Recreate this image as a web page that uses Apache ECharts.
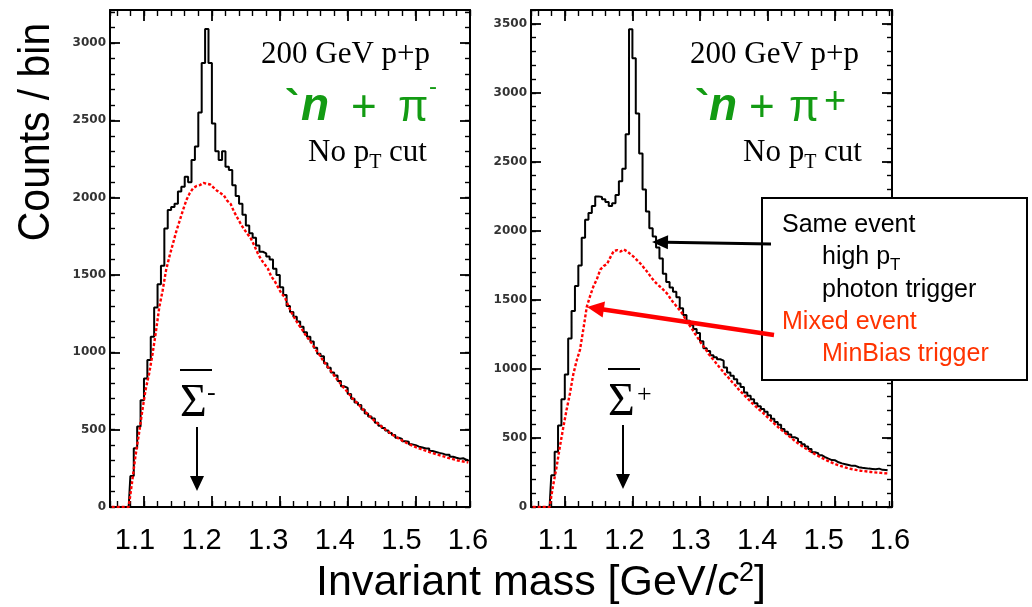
<!DOCTYPE html>
<html>
<head>
<meta charset="utf-8">
<script src="https://cdn.jsdelivr.net/npm/echarts@6/dist/echarts.min.js"></script>
<style>
  html, body { margin: 0; padding: 0; background: #fff; }
  #chart { width: 1032px; height: 607px; }
</style>
</head>
<body>
<div id="chart"></div>
<script>
// Histogram binning (GeV/c^2): first bin centre and bin width
const binStart = 1.0525;
const binWidth = 0.005;

// anti-n + pi-  : same-event (high-pT photon trigger) counts per bin
const sameEventMinus = [
  0, 0, 0, 0, 0, 0, 200, 380, 520, 690,
  830, 950, 1100, 1290, 1440, 1560, 1800, 1920, 1940, 1960,
  2040, 2070, 2135, 2100, 2243, 2330, 2550, 2870, 3090, 2870,
  2480, 2300, 2243, 2300, 2200, 2178, 2080, 2010, 1960, 1890,
  1820, 1770, 1740, 1690, 1650, 1640, 1620, 1600, 1540, 1500,
  1420, 1370, 1300, 1260, 1230, 1200, 1165, 1130, 1100, 1070,
  1030, 990, 975, 930, 900, 870, 850, 815, 780, 770,
  730, 700, 675, 660, 630, 605, 585, 572, 545, 525,
  510, 495, 478, 465, 448, 440, 425, 422, 405, 400,
  390, 385, 378, 378, 362, 356, 350, 345, 337, 338,
  325, 318, 312, 315, 305, 302
];
// anti-n + pi-  : mixed-event (MinBias trigger) counts per bin
const mixedEventMinus = [
  0, 0, 0, 0, 0, 0, 160, 330, 470, 620,
  760, 860, 985, 1130, 1290, 1400, 1530, 1620, 1700, 1780,
  1850, 1920, 1985, 2030, 2062, 2075, 2081, 2095, 2090, 2085,
  2065, 2045, 2030, 2015, 1980, 1960, 1910, 1870, 1830, 1795,
  1765, 1735, 1690, 1640, 1600, 1570, 1540, 1490, 1460, 1420,
  1380, 1355, 1300, 1255, 1215, 1180, 1150, 1115, 1085, 1055,
  1020, 990, 955, 925, 895, 865, 835, 808, 780, 755,
  728, 700, 678, 655, 630, 608, 586, 565, 545, 528,
  510, 494, 478, 462, 450, 436, 424, 412, 402, 392,
  383, 375, 367, 360, 352, 345, 338, 332, 325, 318,
  312, 306, 300, 296, 292, 288
];
// anti-n + pi+  : same-event counts per bin
const sameEventPlus = [
  0, 0, 0, 0, 0, 0, 230, 400, 590, 780,
  960, 1220, 1420, 1600, 1750, 1950, 2080, 2130, 2180, 2250,
  2246, 2230, 2210, 2180, 2200, 2260, 2360, 2450, 2700, 3460,
  3250, 2850, 2560, 2300, 2140, 2020, 1960, 1880, 1800, 1690,
  1630, 1590, 1560, 1520, 1440, 1390, 1350, 1320, 1290, 1260,
  1200, 1150, 1130, 1100, 1085, 1070, 1060, 1010, 975, 950,
  925, 895, 870, 830, 805, 780, 752, 730, 710, 690,
  665, 640, 615, 596, 565, 545, 525, 505, 495, 470,
  455, 438, 420, 396, 390, 375, 362, 350, 340, 338,
  324, 316, 310, 304, 298, 298, 288, 284, 281, 278,
  276, 273, 278, 269, 268, 266
];
// anti-n + pi+  : mixed-event counts per bin
const mixedEventPlus = [
  0, 0, 0, 0, 0, 0, 150, 280, 430, 570,
  700, 820, 960, 1060, 1140, 1290, 1450, 1530, 1600, 1650,
  1720, 1745, 1760, 1810, 1855, 1860, 1850, 1865, 1850, 1830,
  1810, 1785, 1760, 1730, 1700, 1665, 1635, 1610, 1590, 1565,
  1540, 1500, 1470, 1440, 1410, 1370, 1330, 1295, 1255, 1220,
  1180, 1150, 1110, 1080, 1050, 1020, 990, 960, 935, 905,
  880, 850, 825, 800, 775, 750, 728, 705, 685, 660,
  638, 615, 592, 570, 550, 530, 510, 490, 470, 452,
  436, 420, 405, 390, 376, 362, 350, 338, 326, 316,
  306, 298, 290, 283, 277, 272, 267, 263, 260, 257,
  254, 251, 249, 247, 245, 243
];

// Tick labels
const massTicks = [1.1, 1.2, 1.3, 1.4, 1.5, 1.6];
const countTicksMinus = [0, 500, 1000, 1500, 2000, 2500, 3000];
const countTicksPlus = [0, 500, 1000, 1500, 2000, 2500, 3000, 3500];

// Plot ranges
const massRangeMinus = [1.05, 1.58];
const massRangePlus = [1.05, 1.584];
const countMaxMinus = 3213;
const countMaxPlus = 3600;

// Panel frames (px)
const boxMinus = { left: 110, top: 10, width: 360, height: 497 };
const boxPlus = { left: 531, top: 10, width: 361, height: 497 };

const toPairs = vals => vals.map((v, i) => [+(binStart + i * binWidth).toFixed(4), v]);

const BLACK = '#000';
const blank = () => '';

// one side of a panel frame: black line with inward ticks
function sideAxis(grid, pos, min, max, spacing, len, showLine) {
  return Object.assign({
    type: 'value', gridIndex: grid, position: pos, min: min, max: max,
    axisLine: { show: showLine, onZero: false, lineStyle: { color: BLACK, width: 2 } },
    axisTick: { show: true, inside: true, length: len, lineStyle: { color: BLACK, width: len > 7 ? 1.8 : 1.4 } },
    axisLabel: { show: true, formatter: blank, fontSize: 1 },
    splitLine: { show: false }
  }, spacing);
}
// mass labels sit slightly left of the frame ticks, so they get their own scale
function massLabelAxis(grid, min, max) {
  return {
    type: 'value', gridIndex: grid, position: 'bottom', min: min, max: max,
    axisLine: { show: false, onZero: false }, axisTick: { show: false },
    splitLine: { show: false },
    axisLabel: {
      show: true, customValues: massTicks, margin: 19,
      formatter: v => v.toFixed(1),
      fontFamily: 'Liberation Sans', fontSize: 29, color: BLACK
    }
  };
}
function countLabelAxis(grid, max, ticks) {
  return {
    type: 'value', gridIndex: grid, position: 'left', min: 0, max: max, interval: 500,
    axisLine: { show: false, onZero: false }, axisTick: { show: false }, splitLine: { show: false },
    axisLabel: {
      show: true, customValues: ticks, margin: 4, formatter: v => String(v),
      fontFamily: 'DejaVu Sans', fontSize: 12, fontWeight: 'bold', color: '#333'
    }
  };
}

const xAxes = [];
const yAxes = [];
[[0, massRangeMinus, [1.0625, 1.603]], [1, massRangePlus, [1.0593, 1.603]]].forEach(([g, r, lr]) => {
  xAxes.push(sideAxis(g, 'bottom', r[0], r[1], { splitNumber: 5 }, 11, true));   // series axis
  xAxes.push(sideAxis(g, 'bottom', r[0], r[1], { splitNumber: 26 }, 6, false));
  xAxes.push(sideAxis(g, 'top', r[0], r[1], { splitNumber: 5 }, 11, true));
  xAxes.push(sideAxis(g, 'top', r[0], r[1], { splitNumber: 26 }, 6, false));
  xAxes.push(massLabelAxis(g, lr[0], lr[1]));
});
[[0, countMaxMinus, countTicksMinus], [1, countMaxPlus, countTicksPlus]].forEach(([g, max, ticks]) => {
  yAxes.push(sideAxis(g, 'left', 0, max, { interval: 500 }, 10, true));   // series axis
  yAxes.push(sideAxis(g, 'left', 0, max, { interval: 100 }, 5, false));
  yAxes.push(sideAxis(g, 'right', 0, max, { interval: 500 }, 10, true));
  yAxes.push(sideAxis(g, 'right', 0, max, { interval: 100 }, 5, false));
  yAxes.push(countLabelAxis(g, max, ticks));
});

function sameSeries(vals, xi, yi) {
  return {
    type: 'line', xAxisIndex: xi, yAxisIndex: yi, data: toPairs(vals),
    step: 'middle', showSymbol: false, silent: true, z: 3,
    lineStyle: { color: BLACK, width: 2 }
  };
}
function mixedSeries(vals, xi, yi) {
  return {
    type: 'line', xAxisIndex: xi, yAxisIndex: yi, data: toPairs(vals),
    showSymbol: false, silent: true, z: 4,
    lineStyle: { color: '#ff0000', width: 2.4, type: [3, 2] }
  };
}

const graphics = [];

// ---- annotation text helpers ----
const measureCtx = document.createElement('canvas').getContext('2d');
function textWidth(t, font) { measureCtx.font = font; return measureCtx.measureText(t).width; }
function fontSize(font) { return parseFloat(font.match(/([\d.]+)px/)[1]); }
// lay out pieces side by side on a common baseline
function flow(x, baseline, pieces, align) {
  const total = pieces.reduce((s, p) => s + textWidth(p.t, p.font), 0);
  let cx = align === 'center' ? x - total / 2 : x;
  const out = [];
  pieces.forEach(p => {
    out.push({
      type: 'text', x: cx, y: baseline + (p.dy || 0) - 0.31 * fontSize(p.font), z: p.z || 120,
      style: { text: p.t, font: p.font, fill: p.fill || BLACK, align: 'left', verticalAlign: 'middle' }
    });
    cx += textWidth(p.t, p.font);
  });
  return out;
}
// single piece at an explicit position
function piece(x, baseline, t, font, fill) {
  return flow(x, baseline, [{ t: t, font: font, fill: fill }])[0];
}

const SERIF = '"Liberation Serif"';
const SANS = '"Liberation Sans"';
const GREEN = '#139b13';
const ORANGE_RED = '#ff3300';

// axis titles
graphics.push({
  type: 'text', x: 37, y: 132, rotation: Math.PI / 2, scaleX: 0.93, z: 120,
  style: { text: 'Counts / bin', font: '44px ' + SANS, fill: BLACK, align: 'center', verticalAlign: 'middle' }
});
graphics.push(...flow(541, 596, [
  { t: 'Invariant mass [GeV/', font: '43px ' + SANS },
  { t: 'c', font: 'italic 43px ' + SANS },
  { t: '2', font: '27px ' + SANS, dy: -14 },
  { t: ']', font: '43px ' + SANS }
], 'center'));

// panel captions
function captions(x0, nx, sign, signFont, signBase, gx) {
  graphics.push(piece(x0, 64, '200 GeV p+p', '31px ' + SERIF));
  graphics.push(...flow(nx, 162, [
    { t: 'No p', font: '31px ' + SERIF },
    { t: 'T', font: '20px ' + SERIF, dy: 7 },
    { t: ' cut', font: '31px ' + SERIF }
  ]));
  graphics.push(piece(gx[0], 122, '`', 'bold 44px ' + SANS, GREEN));
  graphics.push(piece(gx[1], 122, 'n', 'italic bold 46px ' + SANS, GREEN));
  graphics.push(piece(gx[2], 122, '+', '44px ' + SANS, GREEN));
  graphics.push(piece(gx[3], 122, '\u03c0', '44px ' + SANS, GREEN));
  graphics.push(piece(gx[4], signBase, sign, signFont, GREEN));
}
captions(261, 308, '-', '24px ' + SANS, 95, [285, 301, 351, 398, 429]);
captions(690, 743, '+', '38px ' + SANS, 114, [695, 709, 749, 789, 824]);

// anti-Sigma markers with downward arrows
function sigmaMarker(x, base, sup, supFont, supBase, supX, ax, ay0, ay1) {
  graphics.push(piece(x, base, '\u03a3', '46px ' + SERIF));
  graphics.push({ type: 'line', z: 120, shape: { x1: x, y1: base - 48, x2: x + 32, y2: base - 48 }, style: { stroke: BLACK, lineWidth: 2 } });
  graphics.push(piece(supX, supBase, sup, supFont));
  graphics.push({ type: 'line', z: 120, shape: { x1: ax, y1: ay0, x2: ax, y2: ay1 - 12 }, style: { stroke: BLACK, lineWidth: 2 } });
  graphics.push({ type: 'polygon', z: 120, shape: { points: [[ax - 7, ay1 - 15], [ax + 7, ay1 - 15], [ax, ay1]] }, style: { fill: BLACK } });
}
sigmaMarker(180, 418, '-', '26px ' + SERIF, 401, 207, 197, 427, 491);
sigmaMarker(608, 417, '+', '26px ' + SERIF, 403, 637, 623, 425, 489);

// legend box (drawn over the frame it covers)
graphics.push({ type: 'rect', z: 130, shape: { x: 762, y: 198, width: 265, height: 182 }, style: { fill: '#fff', stroke: BLACK, lineWidth: 2 } });
const legendText = (x, b, pieces) => flow(x, b, pieces).map(e => Object.assign(e, { z: 131 }));
graphics.push(...legendText(782, 233, [{ t: 'Same event', font: '25px ' + SANS }]));
graphics.push(...legendText(822, 265, [
  { t: 'high p', font: '25px ' + SANS },
  { t: 'T', font: '17px ' + SANS, dy: 6 }
]));
graphics.push(...legendText(822, 298, [{ t: 'photon trigger', font: '25px ' + SANS }]));
graphics.push(...legendText(782, 330, [{ t: 'Mixed event', font: '25px ' + SANS, fill: ORANGE_RED }]));
graphics.push(...legendText(822, 362, [{ t: 'MinBias trigger', font: '25px ' + SANS, fill: ORANGE_RED }]));

// pointers from the legend to the curves
function pointer(x0, y0, x1, y1, color, w, headLen, headHalf) {
  const dx = x1 - x0, dy = y1 - y0, L = Math.hypot(dx, dy);
  const ux = dx / L, uy = dy / L, px = -uy, py = ux;
  const bx = x1 - ux * headLen, by = y1 - uy * headLen;
  graphics.push({ type: 'line', z: 132, shape: { x1: x0, y1: y0, x2: bx + ux * 2, y2: by + uy * 2 }, style: { stroke: color, lineWidth: w } });
  graphics.push({ type: 'polygon', z: 132, shape: { points: [[x1, y1], [bx + px * headHalf, by + py * headHalf], [bx - px * headHalf, by - py * headHalf]] }, style: { fill: color } });
}
pointer(771, 244, 652, 242, BLACK, 3, 16, 7);
pointer(774, 335, 587, 307, '#ff0000', 4.5, 17, 8);

const chart = echarts.init(document.getElementById('chart'), null, { renderer: 'canvas' });
chart.setOption({
  animation: false,
  backgroundColor: '#fff',
  grid: [Object.assign({ show: false }, boxMinus), Object.assign({ show: false }, boxPlus)],
  xAxis: xAxes,
  yAxis: yAxes,
  series: [
    sameSeries(sameEventMinus, 0, 0),
    mixedSeries(mixedEventMinus, 0, 0),
    sameSeries(sameEventPlus, 5, 5),
    mixedSeries(mixedEventPlus, 5, 5)
  ],
  graphic: graphics
});
</script>
</body>
</html>
